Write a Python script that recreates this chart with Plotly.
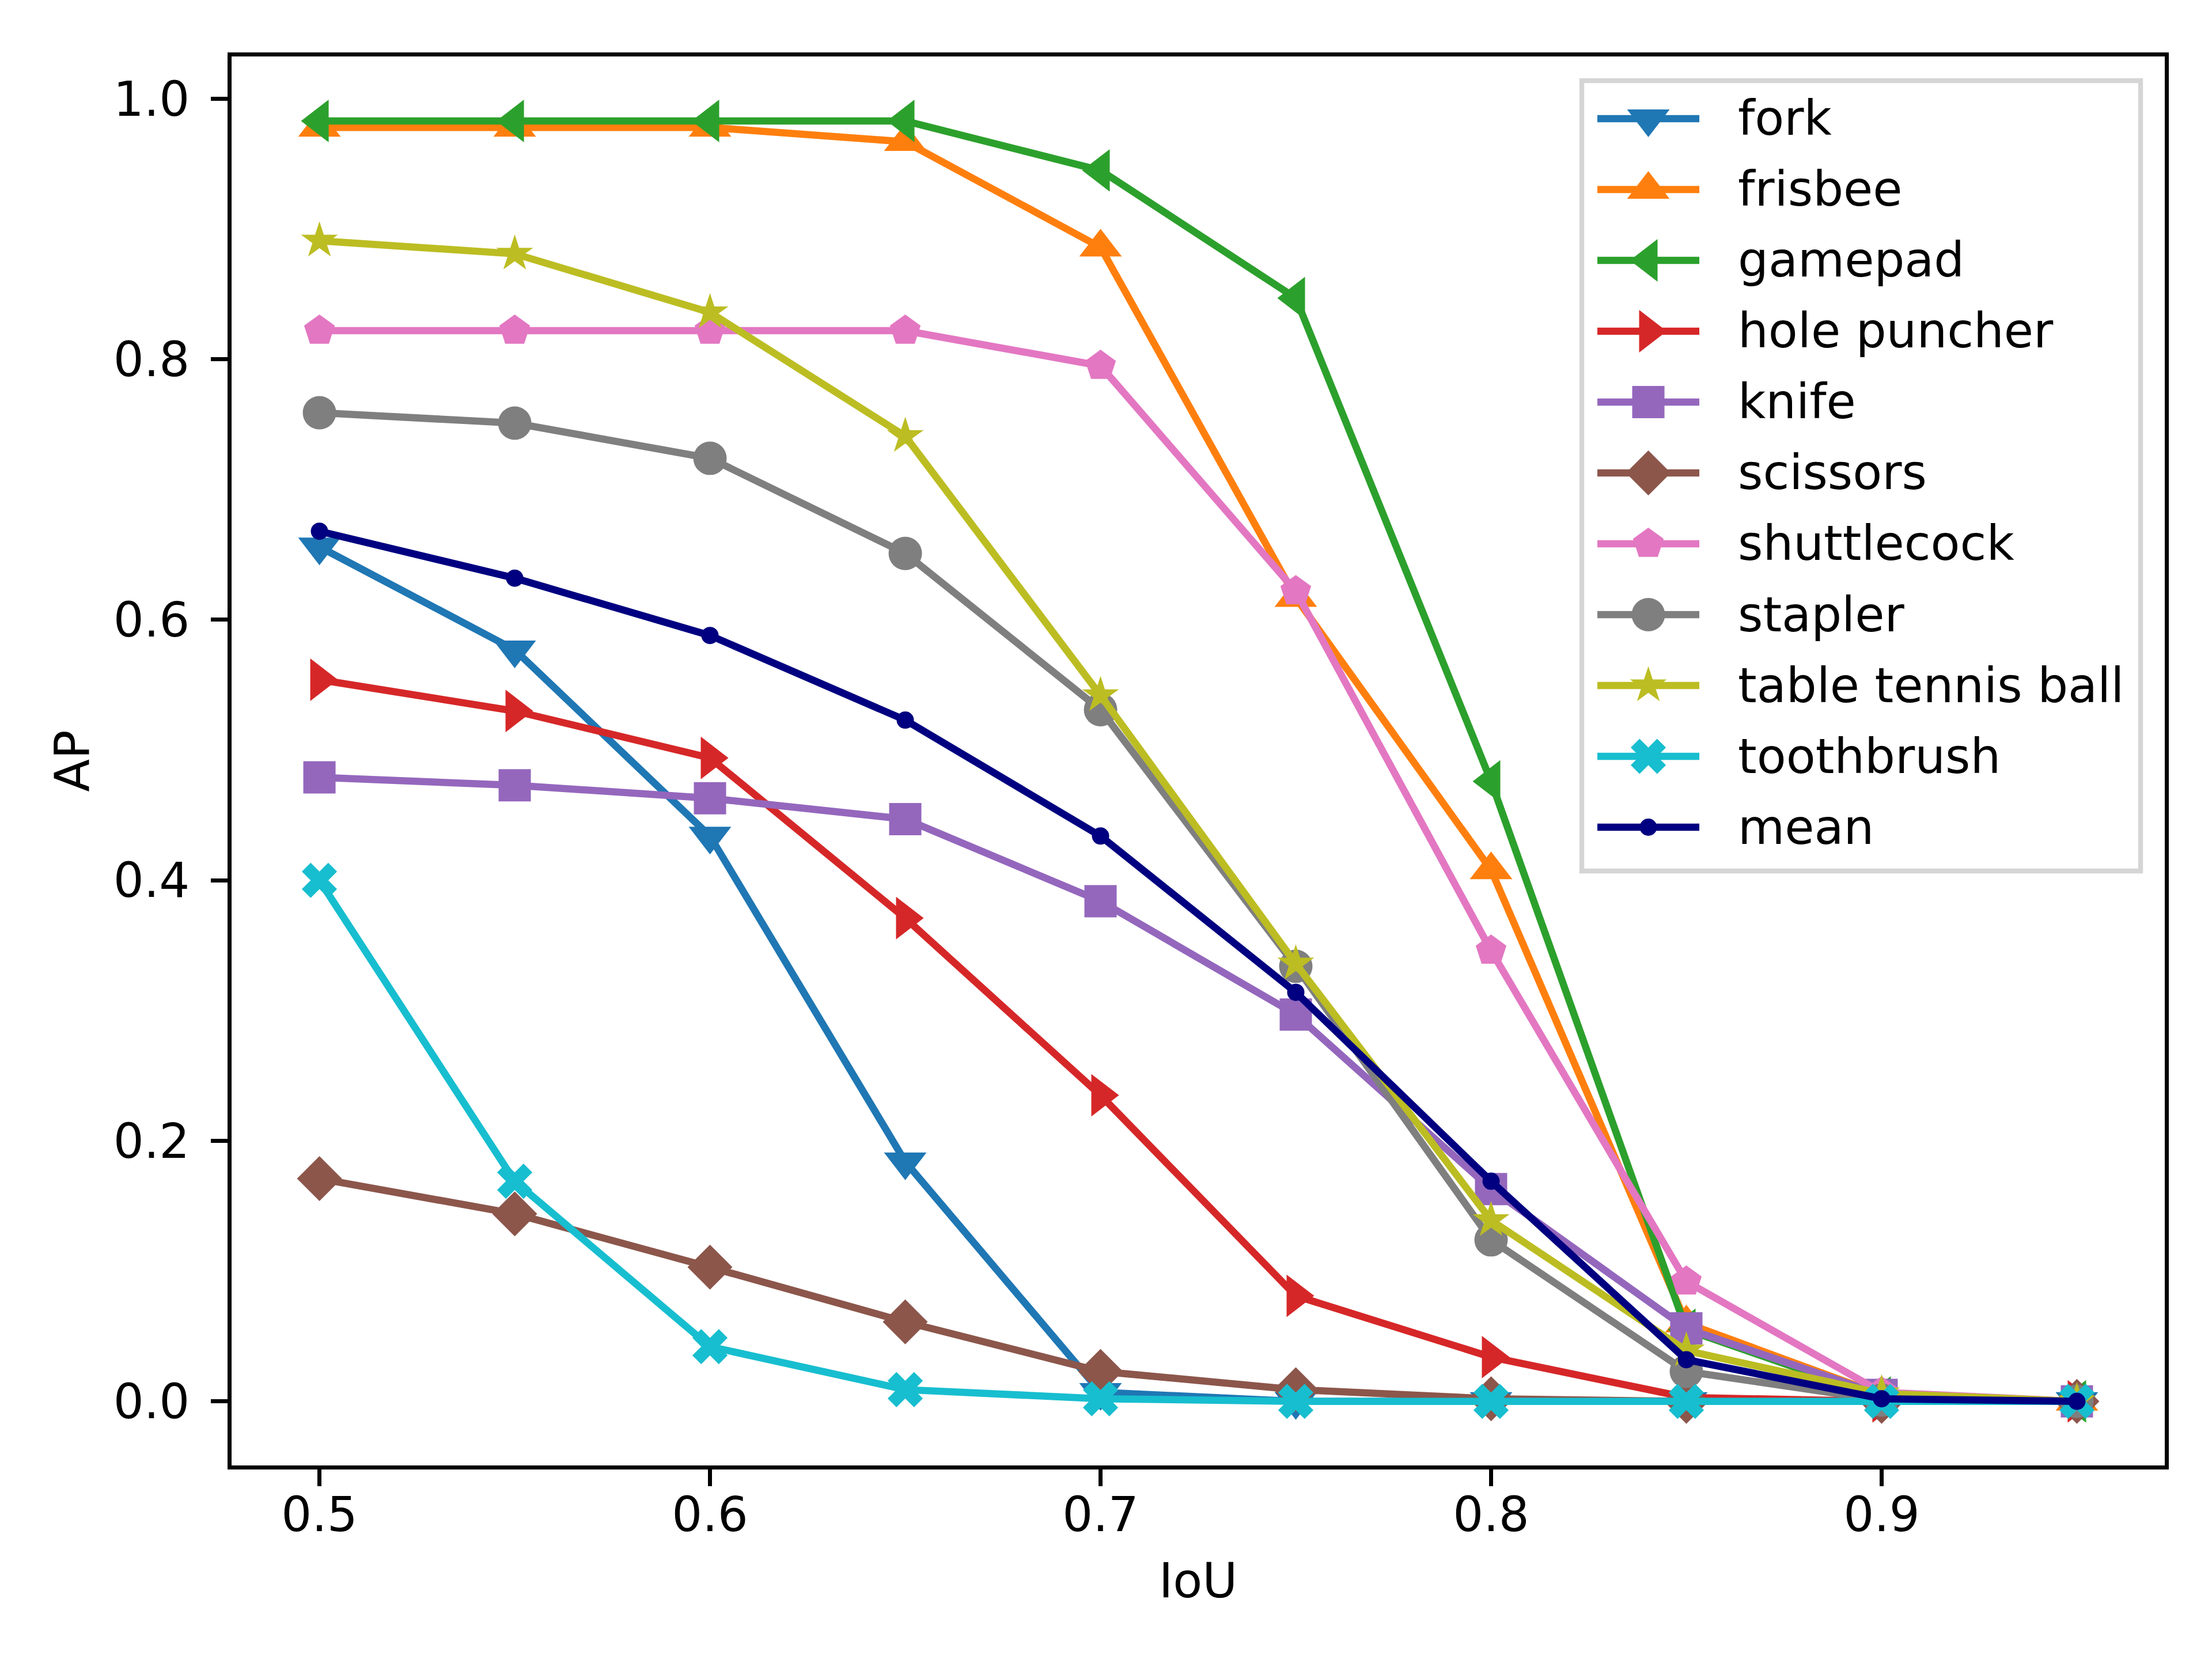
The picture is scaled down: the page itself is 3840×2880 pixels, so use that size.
"""AP vs IoU threshold per category, matplotlib-style look rebuilt in plotly."""
import plotly.graph_objects as go

W, H = 3840, 2880
FONT = "DejaVu Sans"
PT = 600 / 72  # matplotlib points -> px at 600 dpi

iou = [0.5, 0.55, 0.6, 0.65, 0.7, 0.75, 0.8, 0.85, 0.9, 0.95]

names = ["fork", "frisbee", "gamepad", "hole puncher", "knife", "scissors",
         "shuttlecock", "stapler", "table tennis ball", "toothbrush", "mean"]

fork = [0.656, 0.577, 0.434, 0.184, 0.007, 0.0, 0.0, 0.0, 0.0, 0.0]
frisbee = [0.978, 0.978, 0.978, 0.967, 0.886, 0.617, 0.408, 0.060, 0.005, 0.0]
gamepad = [0.983, 0.983, 0.983, 0.983, 0.945, 0.847, 0.476, 0.055, 0.003, 0.0]
hole_puncher = [0.554, 0.530, 0.494, 0.371, 0.235, 0.081, 0.034, 0.003, 0.0, 0.0]
knife = [0.479, 0.473, 0.463, 0.447, 0.384, 0.297, 0.163, 0.056, 0.005, 0.0]
scissors = [0.171, 0.144, 0.103, 0.061, 0.023, 0.009, 0.002, 0.0, 0.0, 0.0]
shuttlecock = [0.822, 0.822, 0.822, 0.822, 0.795, 0.622, 0.346, 0.092, 0.007, 0.0]
stapler = [0.759, 0.751, 0.724, 0.651, 0.531, 0.334, 0.124, 0.023, 0.001, 0.0]
table_tennis_ball = [0.891, 0.881, 0.836, 0.741, 0.542, 0.336, 0.139, 0.039, 0.006, 0.0]
toothbrush = [0.400, 0.169, 0.042, 0.009, 0.002, 0.0, 0.0, 0.0, 0.0, 0.0]
mean = [0.668, 0.632, 0.588, 0.523, 0.434, 0.314, 0.169, 0.032, 0.002, 0.0]

series = [fork, frisbee, gamepad, hole_puncher, knife, scissors,
          shuttlecock, stapler, table_tennis_ball, toothbrush, mean]

colors = ["#1f77b4", "#ff7f0e", "#2ca02c", "#d62728", "#9467bd", "#8c564b",
          "#e377c2", "#7f7f7f", "#bcbd22", "#17becf", "#000080"]
symbols = ["triangle-down", "triangle-up", "triangle-left", "triangle-right", "square",
           "diamond", "pentagon", "circle", "star", "x", "circle"]
sizes = [64, 64, 64, 64, 56, 60, 56, 58, 48, 54, 30]

x_ticks = [0.5, 0.6, 0.7, 0.8, 0.9]
y_ticks = [0.0, 0.2, 0.4, 0.6, 0.8, 1.0]

# axes box in pixels (tight_layout of a 6.4x4.8in figure at 600 dpi)
AX_L, AX_R, AX_T, AX_B = 394, 3750, 90, 2536
# legend box / rows in pixels
LG_L, LG_R, LG_T, LG_B = 2738, 3708, 132, 1504
ROW0, ROW_STEP = 198, 123
SAMPLE_L, SAMPLE_R, TEXT_X = 2765, 2942, 3007

fig = go.Figure()

for name, ys, c, sym, sz in zip(names, series, colors, symbols, sizes):
    fig.add_trace(go.Scatter(
        x=iou, y=ys, name=name, mode="lines+markers",
        line=dict(color=c, width=1.5 * PT),
        marker=dict(symbol=sym, size=sz, color=c, opacity=1, line=dict(width=0)),
        showlegend=False,
    ))

# hand-built legend on its own invisible axes so the sample markers keep their size
for i, (name, c, sym, sz) in enumerate(zip(names, colors, symbols, sizes)):
    fig.add_trace(go.Scatter(
        x=[0, 1], y=[i, i], xaxis="x3", yaxis="y3", mode="lines",
        line=dict(color=c, width=1.5 * PT), showlegend=False, hoverinfo="skip",
    ))
    fig.add_trace(go.Scatter(
        x=[0.5], y=[i], xaxis="x3", yaxis="y3", mode="markers",
        marker=dict(symbol=sym, size=sz, color=c, opacity=1, line=dict(width=0)),
        showlegend=False, hoverinfo="skip",
    ))
    fig.add_annotation(
        x=TEXT_X / W, xref="paper", y=i, yref="y3", text=name, showarrow=False,
        xanchor="left", yanchor="middle", font=dict(family=FONT, size=10 * PT, color="black"),
    )

fig.add_shape(
    type="rect", xref="paper", yref="paper", layer="below",
    x0=LG_L / W, x1=LG_R / W, y0=1 - LG_B / H, y1=1 - LG_T / H,
    line=dict(color="#d5d5d5", width=1.0 * PT), fillcolor="white",
)

axis_common = dict(
    showline=True, mirror=True, linecolor="black", linewidth=0.8 * PT,
    ticks="outside", ticklen=3.5 * PT, tickwidth=0.8 * PT, tickcolor="black",
    showgrid=False, zeroline=False,
    tickfont=dict(family=FONT, size=10 * PT, color="black"),
)

n_rows = len(names)
fig.update_layout(
    width=W, height=H,
    margin=dict(l=0, r=0, t=0, b=0),
    paper_bgcolor="white", plot_bgcolor="rgba(0,0,0,0)",
    font=dict(family=FONT, size=10 * PT, color="black"),
    xaxis=dict(
        **axis_common, domain=[AX_L / W, AX_R / W], range=[0.4775, 0.9725],
        tickvals=x_ticks, tickformat=".1f", ticklabelstandoff=-22,
        title=dict(text="IoU", font=dict(family=FONT, size=10 * PT), standoff=40),
    ),
    yaxis=dict(
        **axis_common, domain=[1 - AX_B / H, 1 - AX_T / H], range=[-0.0492, 1.0325],
        tickvals=y_ticks, tickformat=".1f", ticklabelstandoff=20,
        title=dict(text="AP", font=dict(family=FONT, size=10 * PT), standoff=16),
    ),
    xaxis3=dict(visible=False, domain=[SAMPLE_L / W, SAMPLE_R / W], range=[0, 1],
                anchor="y3", fixedrange=True),
    yaxis3=dict(visible=False, anchor="x3", fixedrange=True,
                domain=[1 - (ROW0 + ROW_STEP * (n_rows - 0.5)) / H, 1 - (ROW0 - ROW_STEP / 2) / H],
                range=[n_rows - 0.5, -0.5]),
)

fig.write_html("out.html")
